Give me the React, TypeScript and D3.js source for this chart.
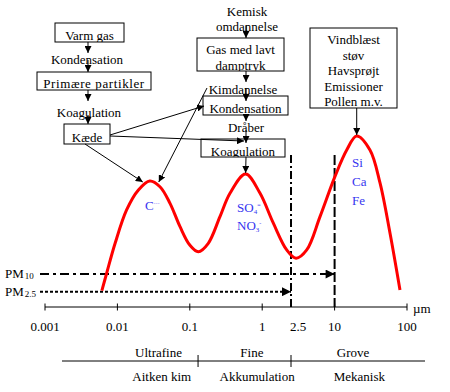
import React from 'react';
import * as d3 from 'd3';

// particle size (µm) and relative volume/mass density
const sizes = [0.0061, 0.0071, 0.0093, 0.0134, 0.0195, 0.028, 0.0387, 0.0533, 0.0733, 0.1, 0.131, 0.18, 0.261, 0.359, 0.59, 0.93, 1.42, 2.18, 2.93, 4.12, 6.29, 10.1, 14.7, 20.2, 30.8, 42.4, 58.2, 80];
const density = [0.091, 0.187, 0.354, 0.539, 0.65, 0.70, 0.668, 0.576, 0.446, 0.344, 0.307, 0.354, 0.502, 0.632, 0.739, 0.633, 0.467, 0.317, 0.271, 0.317, 0.502, 0.724, 0.872, 0.95, 0.872, 0.689, 0.411, 0.094];

const tickValues = [0.001, 0.01, 0.1, 1, 2.5, 10, 100];
const tickLabels = ['0.001', '0.01', '0.1', '1', '2.5', '10', '100'];
const majorTicks = [0.001, 0.01, 0.1, 1, 10, 100];

// PM cut sizes and the level of their arrows
const pmCuts = [10, 2.5];
const pmSubs = ['10', '2.5'];
const pmLevels = [0.183, 0.085];

// modes: top row labels, bottom row labels, dividers
const modeTop = ['Ultrafine', 'Fine', 'Grove'];
const modeBottom = ['Aitken kim', 'Akkumulation', 'Mekanisk'];
const modeTopAt = [0.037, 0.72, 18];
const modeBottomAt = [0.041, 0.85, 22];
const modeDividers = [0.13, 2.5];

const W = 450, H = 392;
const font = "'Liberation Serif', 'DejaVu Serif', 'Times New Roman', serif";
const blue = '#3535f0';

const x = d3.scaleLog().domain([0.001, 100]).range([45, 407]);
const y = d3.scaleLinear().domain([0, 1]).range([307, 127]);

const pts = sizes.map((s, i) => [x(s), y(density[i])] as [number, number]);
const line = d3.line().curve(d3.curveCatmullRom.alpha(0.5));

// peaks of the three modes
const peakIdx = [5, 14, 23];
const peak = peakIdx.map(i => pts[i]);

function Box({x0, y0, w, h, lines, base, id, ls}: any) {
  return (
    <g>
      <clipPath id={id}><rect x={x0} y={y0} width={w} height={h} /></clipPath>
      <rect x={x0} y={y0} width={w} height={h} fill="#fff" stroke="#000" strokeWidth={1} />
      <g clipPath={`url(#${id})`}>
        {lines.map((t: string, i: number) => (
          <text key={i} x={x0 + w / 2} y={base[i]} textAnchor="middle" letterSpacing={ls || 0}>{t}</text>
        ))}
      </g>
    </g>
  );
}

function Arrow({x1, y1, x2, y2}: any) {
  return <line x1={x1} y1={y1} x2={x2} y2={y2} stroke="#000" strokeWidth={1} markerEnd="url(#ah)" />;
}

export default function App() {
  const yTop = 155;
  return (
    <svg width={W} height={H}
      style={{position: 'absolute', left: 0, top: 0, background: '#fff', fontFamily: font, fontSize: '13px'}}>
      <defs>
        <marker id="ah" viewBox="0 0 10 10" refX={10} refY={5} markerWidth={7} markerHeight={7}
          markerUnits="userSpaceOnUse" orient="auto">
          <path d="M0,0L10,5L0,10Z" fill="#000" />
        </marker>
        <marker id="ahBig" viewBox="0 0 10 10" refX={10} refY={5} markerWidth={10} markerHeight={9}
          markerUnits="userSpaceOnUse" orient="auto">
          <path d="M0,0L10,5L0,10Z" fill="#000" />
        </marker>
      </defs>

      {/* vertical cut lines */}
      {pmCuts.map((c, i) => (
        <line key={c} x1={x(c)} x2={x(c)} y1={yTop} y2={y(0)} stroke="#000" strokeWidth={2}
          strokeDasharray={i === 0 ? '10,3' : '8,3,2,3'} />
      ))}

      {/* PM arrows */}
      {pmCuts.map((c, i) => (
        <g key={c}>
          <line x1={40} x2={x(c)} y1={y(pmLevels[i])} y2={y(pmLevels[i])} stroke="#000" strokeWidth={2}
            strokeDasharray={i === 0 ? '9,4,3,4' : '3,2'} markerEnd="url(#ahBig)" />
          <text x={5} y={y(pmLevels[i]) + 4}>PM<tspan style={{fontSize: '9px'}} dx={1} dy={1}>{pmSubs[i]}</tspan></text>
        </g>
      ))}

      {/* curve */}
      <path d={line(pts) || ''} fill="none" stroke="#ff0000" strokeWidth={3} />

      {/* axis */}
      <line x1={x(0.001)} x2={x(100)} y1={y(0)} y2={y(0)} stroke="#000" />
      {majorTicks.map(t => (
        <line key={t} x1={x(t)} x2={x(t)} y1={y(0) - 3.5} y2={y(0) + 3.5} stroke="#000" />
      ))}
      {tickValues.map((t, i) => (
        <text key={t} x={x(t) + (t === 2.5 ? 7 : 0)} y={331} textAnchor="middle">{tickLabels[i]}</text>
      ))}
      <text x={413} y={313}>µm</text>

      {/* modes */}
      <line x1={62} x2={425} y1={361} y2={361} stroke="#000" />
      {modeDividers.map(d => (
        <line key={d} x1={x(d)} x2={x(d)} y1={355} y2={367} stroke="#000" />
      ))}
      {modeTop.map((t, i) => (
        <text key={t} x={x(modeTopAt[i])} y={357} textAnchor="middle">{t}</text>
      ))}
      {modeBottom.map((t, i) => (
        <text key={t} x={x(modeBottomAt[i])} y={381} textAnchor="middle">{t}</text>
      ))}

      {/* blue composition labels */}
      <text x={145} y={210} fill={blue}>C<tspan style={{fontSize: '6px'}} dy={-4}>···</tspan></text>
      <text x={237} y={212} fill={blue}>SO<tspan style={{fontSize: '7px'}} dy={2}>4</tspan><tspan style={{fontSize: '6px'}} dy={-7}>=</tspan></text>
      <text x={237} y={230} fill={blue}>NO<tspan style={{fontSize: '7px'}} dy={2}>3</tspan><tspan style={{fontSize: '6px'}} dy={-7}>-</tspan></text>
      <text x={352} y={167} fill={blue}>Si</text>
      <text x={352} y={186} fill={blue}>Ca</text>
      <text x={352} y={205} fill={blue}>Fe</text>

      {/* left chain */}
      <Box id="b1" x0={55} y0={23} w={69} h={19} lines={['Varm gas']} base={[39.5]} />
      <Arrow x1={88} y1={42} x2={88} y2={53} />
      <text x={87} y={64} textAnchor="middle">Kondensation</text>
      <Arrow x1={88} y1={60} x2={88} y2={72} />
      <Box id="b2" x0={37} y0={72} w={114} h={18} lines={['Primære partikler']} base={[88.3]} ls={0.6} />
      <Arrow x1={88} y1={90} x2={88} y2={101} />
      <text x={89} y={117} textAnchor="middle">Koagulation</text>
      <Arrow x1={88} y1={115} x2={88} y2={124} />
      <Box id="b3" x0={64} y0={124} w={46} h={20} lines={['Kæde']} base={[141.5]} />

      {/* right chain */}
      <text x={247} y={16} textAnchor="middle">Kemisk</text>
      <text x={247} y={31} textAnchor="middle">omdannelse</text>
      <Arrow x1={246} y1={26} x2={246} y2={38} />
      <Box id="b4" x0={197} y0={38} w={87} h={33} lines={['Gas med lavt', 'damptryk']} base={[54, 69.5]} />
      <Arrow x1={246} y1={71} x2={246} y2={82} />
      <text x={243} y={94} textAnchor="middle">Kimdannelse</text>
      <Box id="b5" x0={203} y0={96} w={85} h={19} lines={['Kondensation']} base={[112.5]} />
      <Arrow x1={246} y1={88} x2={246} y2={101} />
      <Arrow x1={246} y1={115} x2={246} y2={121} />
      <text x={246} y={132} textAnchor="middle">Dråber</text>
      <Box id="b6" x0={201} y0={139} w={84} h={18} lines={['Koagulation']} base={[156]} />
      <Arrow x1={246} y1={130} x2={246} y2={143} />
      <Arrow x1={246} y1={157} x2={peak[1][0]} y2={peak[1][1] - 1} />

      {/* Kæde links */}
      <Arrow x1={110} y1={135} x2={204} y2={106} />
      <Arrow x1={110} y1={136} x2={244} y2={141} />
      <Arrow x1={85} y1={144} x2={peak[0][0] - 7} y2={peak[0][1] + 1} />
      <Arrow x1={207} y1={88} x2={peak[0][0] + 9} y2={peak[0][1] + 1} />

      {/* coarse sources */}
      <Box id="b7" x0={310} y0={28} w={87} h={80}
        lines={['Vindblæst', 'støv', 'Havsprøjt', 'Emissioner', 'Pollen m.v.']}
        base={[44, 59.5, 75, 90.5, 106]} />
      <Arrow x1={peak[2][0]} y1={108} x2={peak[2][0]} y2={peak[2][1] - 1} />
    </svg>
  );
}
